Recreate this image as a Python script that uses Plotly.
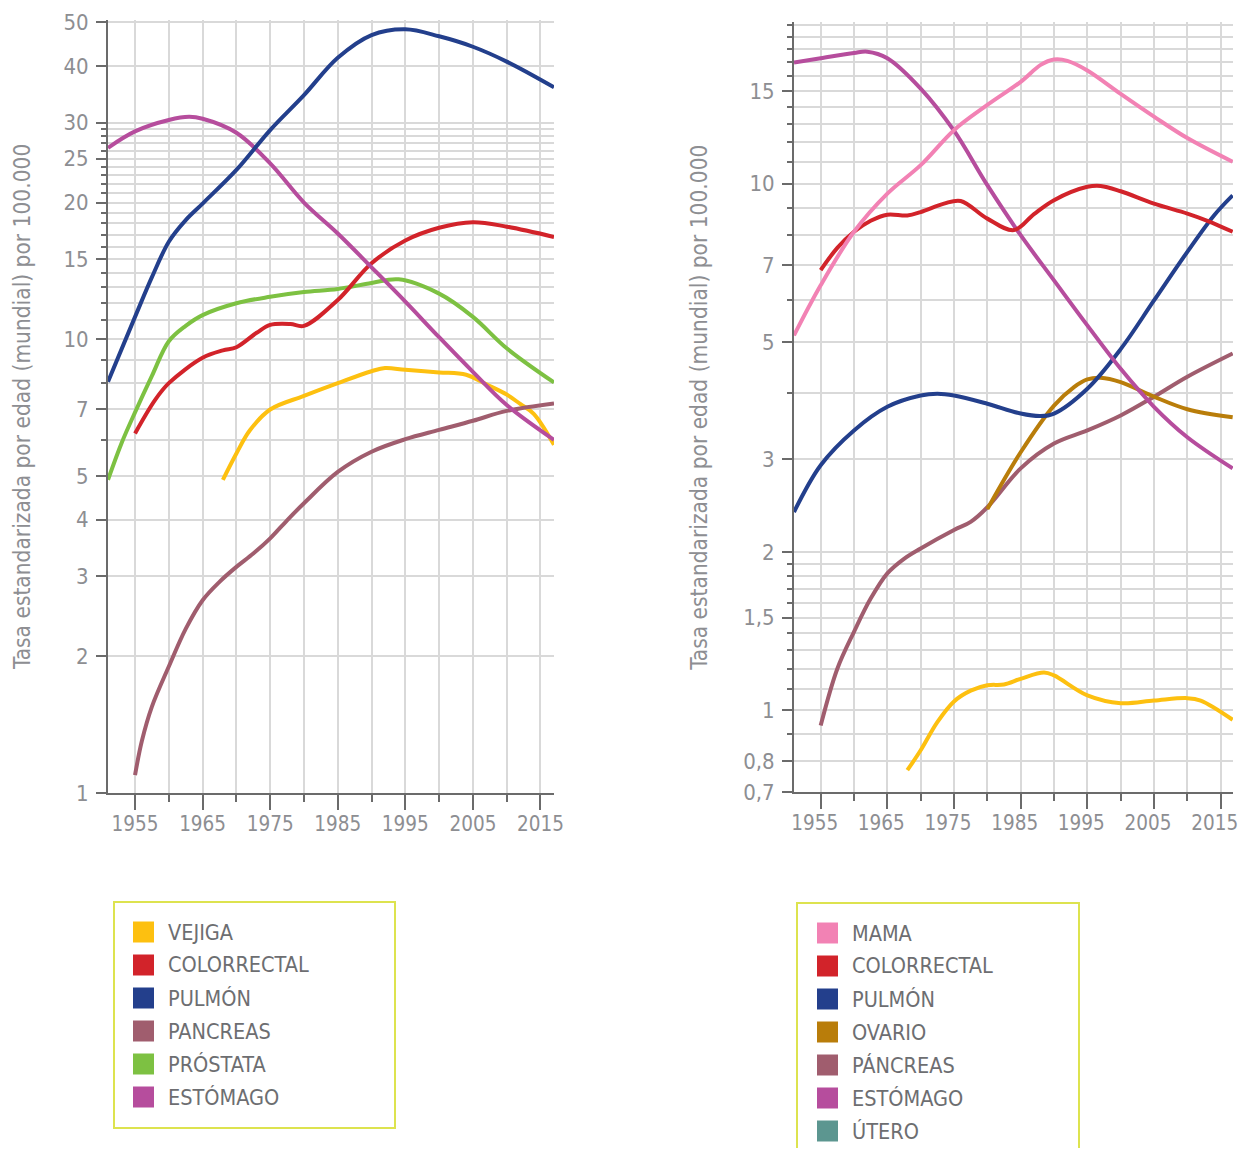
import math
import plotly.graph_objects as go

# ---------------- DATA ----------------
# Left chart (men)
L_VEJIGA_YEARS = [1968, 1970, 1972, 1975, 1980, 1985, 1990, 1992, 1995, 2000, 2004, 2007, 2010, 2012, 2014, 2017]
L_VEJIGA_VALUES = [4.9, 5.6, 6.3, 7.0, 7.5, 8.0, 8.5, 8.64, 8.56, 8.45, 8.35, 7.95, 7.55, 7.2, 6.85, 5.85]

L_COLOR_YEARS = [1955, 1958, 1960, 1965, 1968, 1970, 1973, 1975, 1978, 1980, 1985, 1990, 1995, 2000, 2005, 2010, 2017]
L_COLOR_VALUES = [6.2, 7.36, 8.0, 9.1, 9.45, 9.6, 10.33, 10.75, 10.8, 10.7, 12.2, 14.7, 16.5, 17.6, 18.1, 17.7, 16.8]

L_PULMON_YEARS = [1951, 1955, 1957.5, 1960, 1962.5, 1965, 1970, 1975, 1980, 1985, 1990, 1995, 2000, 2005, 2010, 2017]
L_PULMON_VALUES = [8.06, 11.2, 13.7, 16.4, 18.3, 19.9, 23.6, 28.9, 34.5, 41.7, 46.8, 48.2, 46.5, 44.1, 40.9, 35.9]

L_PANC_YEARS = [1955, 1956, 1957.5, 1960, 1962.5, 1965, 1967.5, 1970, 1972.5, 1975, 1977.5, 1980, 1985, 1990, 1995, 2000, 2005, 2010, 2017]
L_PANC_VALUES = [1.095, 1.3, 1.55, 1.9, 2.3, 2.66, 2.92, 3.15, 3.37, 3.64, 3.99, 4.35, 5.1, 5.65, 6.02, 6.31, 6.61, 6.95, 7.22]

L_PROST_YEARS = [1951, 1953, 1955, 1957.5, 1960, 1962.5, 1965, 1970, 1975, 1980, 1985, 1990, 1994, 2000, 2005, 2010, 2017]
L_PROST_VALUES = [4.9, 5.9, 6.9, 8.3, 9.9, 10.7, 11.3, 12.0, 12.4, 12.7, 12.9, 13.3, 13.55, 12.6, 11.2, 9.55, 8.03]

L_ESTOM_YEARS = [1951, 1955, 1960, 1963, 1965, 1970, 1975, 1980, 1985, 1990, 1995, 2000, 2005, 2010, 2017]
L_ESTOM_VALUES = [26.4, 28.7, 30.4, 30.9, 30.6, 28.5, 24.4, 20.0, 17.1, 14.4, 12.1, 10.1, 8.47, 7.16, 6.0]

# Right chart (women)
R_MAMA_YEARS = [1951, 1955, 1960, 1965, 1970, 1975, 1980, 1985, 1988, 1990, 1992, 1995, 2000, 2005, 2010, 2016.8]
R_MAMA_VALUES = [5.15, 6.41, 8.1, 9.57, 10.84, 12.63, 14.1, 15.6, 16.8, 17.2, 17.1, 16.4, 14.8, 13.4, 12.2, 11.0]

R_COLOR_YEARS = [1955, 1957.5, 1960, 1962.5, 1965, 1968, 1970, 1973.5, 1976, 1980, 1984, 1987, 1990, 1995, 1997, 2000, 2005, 2010, 2013, 2016.8]
R_COLOR_VALUES = [6.85, 7.55, 8.1, 8.5, 8.73, 8.7, 8.83, 9.16, 9.27, 8.58, 8.16, 8.75, 9.3, 9.86, 9.9, 9.67, 9.16, 8.77, 8.5, 8.1]

R_PULMON_YEARS = [1951, 1955, 1960, 1965, 1970, 1972.5, 1975, 1980, 1985, 1988, 1990, 1995, 2000, 2005, 2010, 2014, 2016.8]
R_PULMON_VALUES = [2.38, 2.92, 3.4, 3.77, 3.96, 3.99, 3.96, 3.82, 3.66, 3.62, 3.66, 4.08, 4.85, 6.0, 7.42, 8.7, 9.5]

R_OVARIO_YEARS = [1980, 1985, 1990, 1993, 1995, 1997, 2000, 2005, 2010, 2016.8]
R_OVARIO_VALUES = [2.41, 3.09, 3.79, 4.11, 4.25, 4.28, 4.2, 3.94, 3.73, 3.6]

R_PANC_YEARS = [1955, 1957.5, 1960, 1962.5, 1965, 1967.5, 1970, 1975, 1977.5, 1980, 1985, 1990, 1995, 2000, 2005, 2010, 2016.8]
R_PANC_VALUES = [0.936, 1.2, 1.41, 1.63, 1.82, 1.94, 2.03, 2.2, 2.28, 2.43, 2.88, 3.21, 3.4, 3.63, 3.94, 4.3, 4.76]

R_ESTOM_YEARS = [1951, 1955, 1960, 1962, 1965, 1970, 1975, 1980, 1985, 1990, 1995, 2000, 2005, 2010, 2016.8]
R_ESTOM_VALUES = [16.98, 17.3, 17.7, 17.8, 17.3, 15.15, 12.6, 9.93, 7.98, 6.55, 5.38, 4.45, 3.77, 3.3, 2.88]

R_VEJIGA_YEARS = [1968, 1970, 1972.5, 1975, 1977.5, 1980, 1982.5, 1985, 1988.5, 1990, 1995, 2000, 2005, 2010, 2012, 2016.8]
R_VEJIGA_VALUES = [0.77, 0.84, 0.95, 1.04, 1.09, 1.116, 1.12, 1.148, 1.18, 1.165, 1.068, 1.032, 1.044, 1.055, 1.044, 0.96]

# Tick values / labels
L_YTICKS = [1, 2, 3, 4, 5, 7, 10, 15, 20, 25, 30, 40, 50]
L_YTICKTEXT = ["1", "2", "3", "4", "5", "7", "10", "15", "20", "25", "30", "40", "50"]
L_YMINOR = [6, 8, 9, 11, 12, 13, 14, 16, 17, 18, 19, 21, 22, 23, 24, 26, 27, 28, 29]

R_YTICKS = [0.7, 0.8, 1, 1.5, 2, 3, 5, 7, 10, 15]
R_YTICKTEXT = ["0,7", "0,8", "1", "1,5", "2", "3", "5", "7", "10", "15"]
R_YMINOR = [0.9, 1.1, 1.2, 1.3, 1.4, 1.6, 1.7, 1.8, 1.9, 4, 6, 8, 9, 11, 12, 13, 14, 16, 17, 18, 19, 20]

Y_TITLE = "Tasa estandarizada por edad (mundial) por 100.000"

L_LEGEND_LABELS = ["VEJIGA", "COLORRECTAL", "PULMÓN", "PANCREAS", "PRÓSTATA", "ESTÓMAGO"]
R_LEGEND_LABELS = ["MAMA", "COLORRECTAL", "PULMÓN", "OVARIO", "PÁNCREAS", "ESTÓMAGO", "ÚTERO"]

# ---------------- STYLE ----------------
C_VEJIGA = "#fdc010"
C_COLOR = "#d2232a"
C_PULMON = "#233f8c"
C_PANC = "#a05d6e"
C_PROST = "#7dc142"
C_ESTOM = "#b64d9d"
C_MAMA = "#f282b4"
C_OVARIO = "#b97d0a"
C_UTERO = "#5c9690"

L_LEGEND_COLORS = [C_VEJIGA, C_COLOR, C_PULMON, C_PANC, C_PROST, C_ESTOM]
R_LEGEND_COLORS = [C_MAMA, C_COLOR, C_PULMON, C_OVARIO, C_PANC, C_ESTOM, C_UTERO]

FONT = "DejaVu Sans Condensed, Liberation Sans Narrow, Arial Narrow, sans-serif"
TICK_GRAY = "#8d8e92"
LEG_GRAY = "#6d6e71"
GRID = "#d9d9d9"
AXIS = "#6b6b6b"
BOX = "#dde34f"
LW = 4

# figure sits at the page's default 8px body margin
OX, OY = 8, 8
W, H = 1232, 1140
PAD = 0.005  # small range padding (decades) so the end ticks / grid lines are kept


def px(x):
    return (x - OX) / W


def py(y):
    return max(0.0, min(1.0, 1 - (y - OY) / H))


fig = go.Figure()

left_series = [
    (L_VEJIGA_YEARS, L_VEJIGA_VALUES, C_VEJIGA, "VEJIGA"),
    (L_PANC_YEARS, L_PANC_VALUES, C_PANC, "PANCREAS"),
    (L_PROST_YEARS, L_PROST_VALUES, C_PROST, "PRÓSTATA"),
    (L_COLOR_YEARS, L_COLOR_VALUES, C_COLOR, "COLORRECTAL"),
    (L_ESTOM_YEARS, L_ESTOM_VALUES, C_ESTOM, "ESTÓMAGO"),
    (L_PULMON_YEARS, L_PULMON_VALUES, C_PULMON, "PULMÓN"),
]
for xs, ys, c, name in left_series:
    fig.add_trace(go.Scatter(x=xs, y=ys, mode="lines", name=name, showlegend=False,
                             line=dict(color=c, width=LW, shape="spline", smoothing=1.0),
                             xaxis="x", yaxis="y"))

right_series = [
    (R_VEJIGA_YEARS, R_VEJIGA_VALUES, C_VEJIGA, "VEJIGA"),
    (R_PANC_YEARS, R_PANC_VALUES, C_PANC, "PÁNCREAS"),
    (R_OVARIO_YEARS, R_OVARIO_VALUES, C_OVARIO, "OVARIO"),
    (R_PULMON_YEARS, R_PULMON_VALUES, C_PULMON, "PULMÓN"),
    (R_ESTOM_YEARS, R_ESTOM_VALUES, C_ESTOM, "ESTÓMAGO"),
    (R_COLOR_YEARS, R_COLOR_VALUES, C_COLOR, "COLORRECTAL"),
    (R_MAMA_YEARS, R_MAMA_VALUES, C_MAMA, "MAMA"),
]
for xs, ys, c, name in right_series:
    fig.add_trace(go.Scatter(x=xs, y=ys, mode="lines", name=name, showlegend=False,
                             line=dict(color=c, width=LW, shape="spline", smoothing=1.0),
                             xaxis="x2", yaxis="y2"))


def xaxis_cfg(domain, rng, anchor, shift=0):
    return dict(
        domain=domain, range=rng, anchor=anchor, automargin=False,
        tickmode="linear", tick0=1955, dtick=10,
        ticks="outside", ticklen=15, tickwidth=1.5, tickcolor=AXIS,
        showline=True, linecolor=AXIS, linewidth=2,
        showgrid=True, gridcolor=GRID, gridwidth=1.5, zeroline=False,
        tickfont=dict(family=FONT, size=20.5, color=TICK_GRAY),
        ticklabelstandoff=-4, ticklabelshift=shift, ticklabeloverflow="allow",
        minor=dict(tickmode="linear", tick0=1955, dtick=5, ticks="outside", ticklen=7,
                   tickwidth=1.5, tickcolor=AXIS, showgrid=True, gridcolor=GRID, gridwidth=1.5),
    )


def yaxis_cfg(domain, rng, anchor, tv, tt, minor_vals, standoff):
    return dict(
        type="log", domain=domain, range=rng, anchor=anchor, automargin=False,
        tickmode="array", tickvals=tv, ticktext=tt,
        ticks="outside", ticklen=10, tickwidth=1.5, tickcolor=AXIS,
        showline=True, linecolor=AXIS, linewidth=2,
        showgrid=True, gridcolor=GRID, gridwidth=1.5, zeroline=False,
        tickfont=dict(family=FONT, size=22, color=TICK_GRAY),
        ticklabelstandoff=3, ticklabeloverflow="allow",
        minor=dict(tickmode="array", tickvals=minor_vals, ticks="outside", ticklen=5,
                   tickwidth=1.5, tickcolor=AXIS, showgrid=True, gridcolor=GRID, gridwidth=1.5),
        title=dict(text=Y_TITLE, font=dict(family=FONT, size=22.5, color=TICK_GRAY), standoff=standoff),
    )


L_DEC_PX = 453.8   # screen pixels per decade, left chart
R_DEC_PX = 526.6   # screen pixels per decade, right chart

fig.update_layout(
    width=W, height=H,
    margin=dict(l=0, r=0, t=0, b=0, autoexpand=False),
    paper_bgcolor="white", plot_bgcolor="white",
    showlegend=False,
    xaxis=xaxis_cfg([px(108), px(554)], [1951, 2017], "y"),
    yaxis=yaxis_cfg([py(793), py(22 - PAD * L_DEC_PX)], [0, math.log10(max(L_YTICKS)) + PAD], "x",
                    L_YTICKS, L_YTICKTEXT, L_YMINOR, 27),
    xaxis2=xaxis_cfg([px(794), px(1233)], [1951, 2016.85], "y2", shift=-6),
    yaxis2=yaxis_cfg([py(792), py(25 - PAD * R_DEC_PX)],
                     [math.log10(0.7), math.log10(20) + PAD], "x2",
                     R_YTICKS, R_YTICKTEXT, R_YMINOR, 29),
)

# ---------------- Manual legends ----------------
shapes = []
annotations = []


def add_legend(box, sw_x, txt_x, y0, labels, colors, closed=True):
    x1, y1, x2, y2 = box
    if closed:
        shapes.append(dict(type="rect", xref="paper", yref="paper",
                           x0=px(x1), x1=px(x2), y0=py(y2), y1=py(y1),
                           line=dict(color=BOX, width=2), fillcolor="rgba(0,0,0,0)"))
    else:  # box continues past the lower page edge: draw only left, top and right sides
        path = "M{a},{b} L{a},{c} L{d},{c} L{d},{b}".format(a=px(x1), b=py(y2), c=py(y1), d=px(x2))
        shapes.append(dict(type="path", xref="paper", yref="paper", path=path,
                           line=dict(color=BOX, width=2)))
    for i, (lab, col) in enumerate(zip(labels, colors)):
        cy = y0 + i * 33
        shapes.append(dict(type="rect", xref="paper", yref="paper",
                           x0=px(sw_x), x1=px(sw_x + 21), y0=py(cy + 10.5), y1=py(cy - 10.5),
                           line=dict(width=0), fillcolor=col))
        annotations.append(dict(text=lab, xref="paper", yref="paper", x=px(txt_x), y=py(cy),
                                xanchor="left", yanchor="middle", showarrow=False,
                                font=dict(family=FONT, size=21.5, color=LEG_GRAY)))


add_legend((114, 902, 395, 1128), 133, 166, 932, L_LEGEND_LABELS, L_LEGEND_COLORS)
add_legend((797, 903, 1079, 1160), 817, 850, 933, R_LEGEND_LABELS, R_LEGEND_COLORS, closed=False)

fig.update_layout(shapes=shapes, annotations=annotations)

fig.write_html("out.html")
